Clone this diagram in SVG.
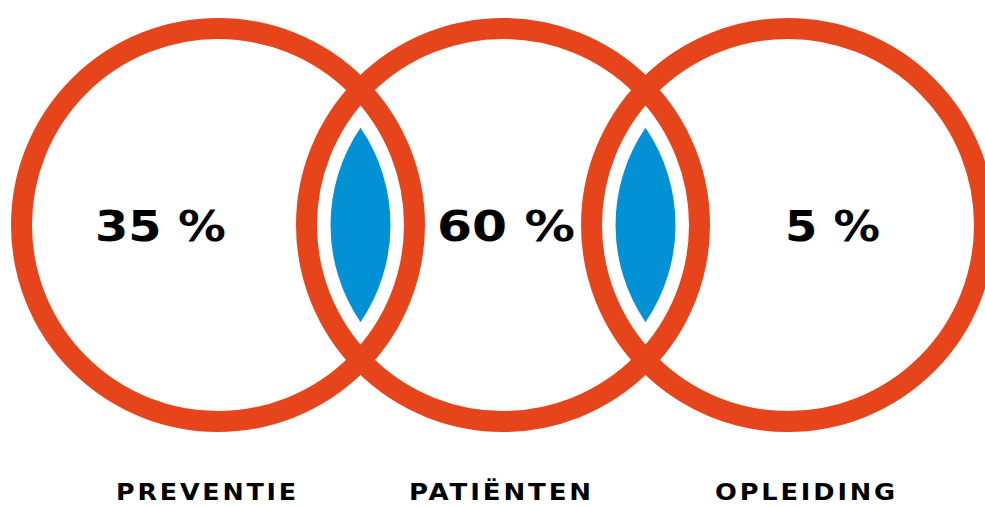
<svg xmlns="http://www.w3.org/2000/svg" width="985" height="506" viewBox="0 0 985 506">
<style>
.ring{fill:none;stroke:#E6441A;stroke-width:21}
.lens{fill:#0391D6}
.pct{font-family:"DejaVu Sans","Liberation Sans",sans-serif;font-weight:900;font-size:43px;fill:#000}
.lbl{font-family:"DejaVu Sans","Liberation Sans",sans-serif;font-weight:900;font-size:22.5px;fill:#000;letter-spacing:2.5px}
</style>
<rect width="985" height="506" fill="#fff"/>
<g id="preventie">
<circle class="ring" cx="218" cy="225" r="196.5"/>
<text class="pct" x="95" y="241" textLength="131" lengthAdjust="spacingAndGlyphs">35 %</text>
<text class="lbl" x="116" y="500" textLength="183" lengthAdjust="spacingAndGlyphs">PREVENTIE</text>
</g>
<g id="patienten">
<circle class="ring" cx="503" cy="225" r="196.5"/>
<text class="pct" x="437" y="241" textLength="138" lengthAdjust="spacingAndGlyphs">60 %</text>
<text class="lbl" x="409" y="500" textLength="185" lengthAdjust="spacingAndGlyphs">PATIËNTEN</text>
</g>
<g id="opleiding">
<circle class="ring" cx="788" cy="225" r="196.5"/>
<text class="pct" x="785" y="241" textLength="95" lengthAdjust="spacingAndGlyphs">5 %</text>
<text class="lbl" x="715" y="500" textLength="183" lengthAdjust="spacingAndGlyphs">OPLEIDING</text>
</g>
<g id="overlap-1">
<path class="lens" d="M360.5 127.8 A172.5 172.5 0 0 1 360.5 322.2 A172.5 172.5 0 0 1 360.5 127.8 Z"/>
</g>
<g id="overlap-2">
<path class="lens" d="M645.5 127.8 A172.5 172.5 0 0 1 645.5 322.2 A172.5 172.5 0 0 1 645.5 127.8 Z"/>
</g>
</svg>
